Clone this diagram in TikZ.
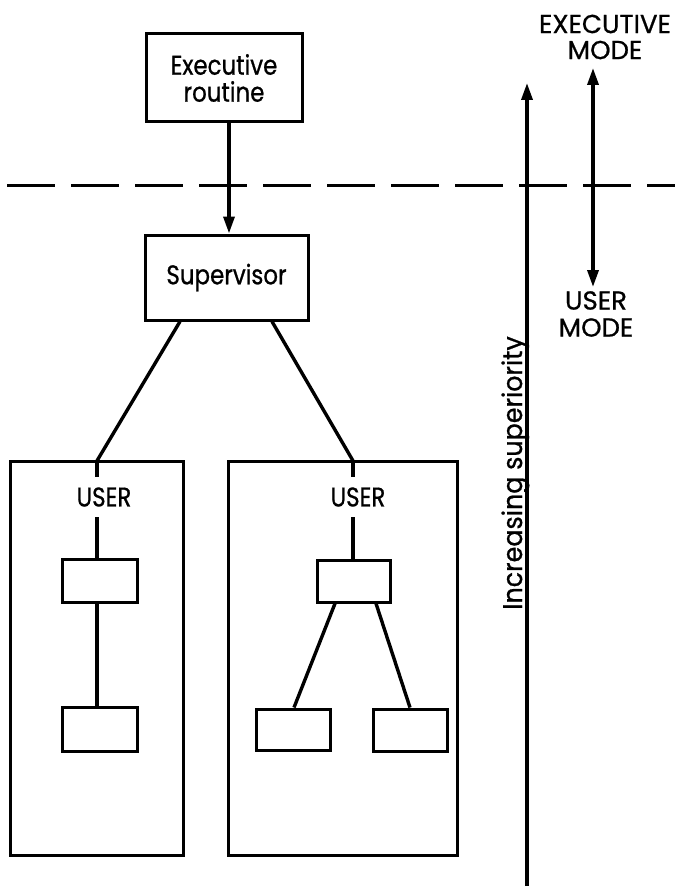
\documentclass[tikz,border=0pt]{standalone}
\usepackage{fontspec}
\setmainfont{Poppins}[FakeStretch=0.85,FakeBold=0.8]
\newfontfamily\widefont{Poppins}[FakeStretch=1.0,FakeBold=0.8]
\newfontfamily\midfont{Poppins}[FakeStretch=0.94,FakeBold=0.8]
\usetikzlibrary{arrows.meta}
\begin{document}
\begin{tikzpicture}[x=1pt,y=-1pt,
  box/.style={draw,line width=3pt,inner sep=0pt,minimum width=#1},
  conn/.style={line width=3.4pt},
  lbl/.style={font=\fontsize{27}{27}\selectfont,inner sep=0pt,align=center},
  tip/.style={-{Triangle[length=17pt,width=11pt]}}]
\useasboundingbox (0,0) rectangle (675,888);
% boxes
\node[box=156,minimum height=88,lbl] (exec) at (224,78) {Executive\\routine};
\node[box=163,minimum height=85,lbl] (sup) at (226.5,277.5) {Supervisor};
\draw[line width=3pt] (10,461) rectangle (183,855);
\node[inner sep=0pt,minimum width=173,minimum height=394] (u1) at (96.5,658) {};
\draw[line width=3pt] (228,461) rectangle (457,855);
\node[inner sep=0pt,minimum width=229,minimum height=394] (u2) at (342.5,658) {};
\node[lbl] (l1) at (104,497) {USER};
\node[lbl] (l2) at (358,497) {USER};
\node[box=75,minimum height=43] (b1) at (99.5,580.5) {};
\node[box=75,minimum height=44] (b2) at (99.5,729) {};
\node[box=73,minimum height=42] (b3) at (353.5,581) {};
\node[box=74,minimum height=41] (b4) at (293,729.5) {};
\node[box=74,minimum height=42] (b5) at (410,730) {};
% coordinates
\coordinate (ax) at (229,0);
\coordinate (c1) at (97,0);
\coordinate (c2) at (353,0);
% connectors
\draw[conn,tip] (exec.south -| ax) -- (sup.north -| ax);
\draw[conn] ([xshift=-46.5]sup.south) -- (u1.north -| c1);
\draw[conn] ([xshift=45.5]sup.south) -- (u2.north -| c2);
\draw[conn] (u1.north -| c1) -- ++(0,16);
\draw[conn] (c1 |- 0,517) -- (b1.north -| c1);
\draw[conn] (b1.south -| c1) -- (b2.north -| c1);
\draw[conn] (u2.north -| c2) -- ++(0,16);
\draw[conn] (c2 |- 0,517) -- (b3.north -| c2);
\draw[conn] ([xshift=-18.5]b3.south) -- ([xshift=1]b4.north);
\draw[conn] ([xshift=22.5]b3.south) -- ([xshift=0]b5.north);
% dashed boundary
\coordinate (dl) at (7,185);
\coordinate (dr) at (675,185);
\draw[line width=3pt,dash pattern=on 48pt off 16pt] (dl) -- (dr);
% right side
\coordinate (sb) at (527,886);
\coordinate (st) at (527,83);
\draw[conn,tip] (sb) -- (st);
\node[lbl,font=\fontsize{27}{27}\midfont,rotate=90,anchor=base] (inc) at (522,473) {Increasing superiority};
\coordinate (mt) at (593,68);
\coordinate (mb) at (593,287);
\draw[conn,{Triangle[length=17pt,width=11pt]}-{Triangle[length=17pt,width=11pt]}] (mb) -- (mt);
\node[lbl,font=\fontsize{26}{26}\widefont] (em) at (605,37) {EXECUTIVE\\MODE};
\node[lbl,font=\fontsize{26}{27}\widefont] (um) at (596,314) {USER\\MODE};
\end{tikzpicture}
\end{document}
